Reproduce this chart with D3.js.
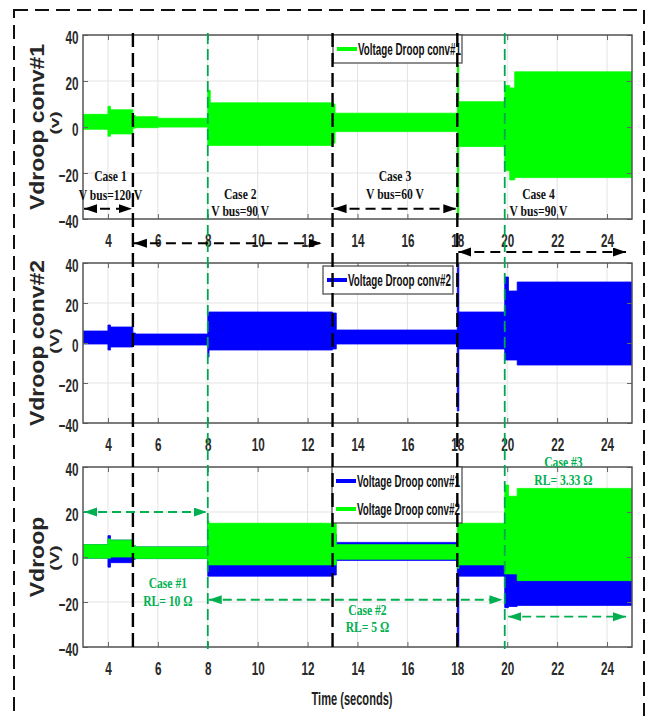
<!DOCTYPE html>
<html>
<head>
<meta charset="utf-8">
<script src="https://cdn.jsdelivr.net/npm/d3@7"></script>
<style>
body { margin: 0; background: #fff; }
</style>
</head>
<body>
<div id="chart"></div>
<script>
// tick values
var timeTicks = [4, 6, 8, 10, 12, 14, 16, 18, 20, 22, 24];
var voltTicks = [-40, -20, 0, 20, 40];

// envelopes of the oscillating droop voltages (step after each time)
// top panel, conv#1
var p1Time = [3, 4, 4.1, 5, 5.1, 6, 8, 8.1, 13, 13.1, 18, 18.06, 19.9, 20.1, 20.3, 25];
var p1Hi   = [5.5, 9, 7.5, 5, 4.5, 3.8, 16, 10.5, 10, 6, 27, 11, 18, 17, 24, 24];
var p1Lo   = [-1, -4, -3, -0.5, -0.3, 0, -8, -8, -7, -2, -39, -8.5, -19, -23, -22, -22];

// middle panel, conv#2
var p2Time = [3, 4, 4.1, 5, 5.1, 8, 8.05, 13, 13.15, 18, 18.06, 19.9, 20.05, 20.4, 25];
var p2Hi   = [6, 9, 8, 5, 4.5, 15, 15.5, 15, 6.5, 40, 15.5, 33, 26, 30.5, 30.5];
var p2Lo   = [-0.5, -3.5, -2, -1, -1, -7, -3.5, -3, -0.5, -34, -3, -8.5, -8.5, -11, -11];

// bottom panel, both converters
var p3Time   = [3, 4, 4.1, 5, 5.1, 8, 8.05, 13, 13.15, 18, 18.06, 19.9, 20.05, 20.4, 25];
var p3BlueHi = [5.5, 9.5, 7.5, 5, 4.5, 15, 10, 10, 6.5, 10, 10, 20, 15, 15, 15];
var p3BlueLo = [-0.5, -4.5, -2.5, -1, -0.7, -8.5, -8.5, -8, -1.5, -40, -8.5, -22.5, -22, -21.5, -21.5];
var p3GreenHi = [5.5, 8, 7.5, 5, 4.5, 16, 15, 15, 5.5, 40, 15, 32, 27, 30.5, 30.5];
var p3GreenLo = [-0.5, -0.5, 0, -0.5, -0.7, -3.5, -3.5, -3.5, -1, -5, -3.5, -7.5, -7.5, -10.5, -10.5];

// case boundaries
var blackBounds = [5, 13, 18];
var greenBounds = [8, 19.9];

function rows(t, hi, lo) {
  return t.map(function(d, i) { return {t: d, hi: hi[i], lo: lo[i]}; });
}

var width = 654, height = 716;
var svg = d3.select("#chart").append("svg")
    .attr("width", width)
    .attr("height", height);

var defs = svg.append("defs");
function marker(id, color) {
  defs.append("marker")
      .attr("id", id)
      .attr("markerUnits", "userSpaceOnUse")
      .attr("markerWidth", 14).attr("markerHeight", 10)
      .attr("refX", 13).attr("refY", 4.5)
      .attr("orient", "auto-start-reverse")
    .append("path")
      .attr("d", "M0,0 L13,4.5 L0,9 Z")
      .attr("fill", color);
}
marker("arrBlack", "#000");
marker("arrGreen", "#00b050");

var x = d3.scaleLinear().domain([3, 25]).range([83, 632]);

var GREEN = "#00ff00", BLUE = "#0000ff";

var panels = [
  {top: 35, bottom: 219, label: "Vdroop conv#1", unit: "(v)", unitDy: -4,
   series: [{d: rows(p1Time, p1Hi, p1Lo), c: GREEN}],
   legend: {x: 333, y: 35, w: 129, items: [{c: GREEN, s: "Voltage Droop conv#1"}]}},
  {top: 263, bottom: 423, label: "Vdroop conv#2", unit: "(V)", unitDy: -2,
   series: [{d: rows(p2Time, p2Hi, p2Lo), c: BLUE}],
   legend: {x: 323, y: 266, w: 130, items: [{c: BLUE, s: "Voltage Droop conv#2"}]}},
  {top: 467, bottom: 647, label: "Vdroop", unit: "(V)", unitDy: 1,
   series: [{d: rows(p3Time, p3BlueHi, p3BlueLo), c: BLUE},
            {d: rows(p3Time, p3GreenHi, p3GreenLo), c: GREEN}],
   legend: {x: 332, y: 467, w: 130, items: [{c: BLUE, s: "Voltage Droop conv#1"},
                                            {c: GREEN, s: "Voltage Droop conv#2"}]}}
];

panels.forEach(function(p, k) {
  var y = d3.scaleLinear().domain([-40, 40]).range([p.bottom, p.top]);
  p.y = y;
  var g = svg.append("g");

  defs.append("clipPath").attr("id", "clip" + k)
    .append("rect").attr("x", x(3)).attr("y", p.top)
    .attr("width", x(25) - x(3)).attr("height", p.bottom - p.top);

  // grid
  g.selectAll(".gx").data(timeTicks).enter().append("line")
      .attr("x1", function(d) { return x(d); }).attr("x2", function(d) { return x(d); })
      .attr("y1", p.top).attr("y2", p.bottom)
      .attr("stroke", "#e3e3e3").attr("stroke-width", 1);
  g.selectAll(".gy").data(voltTicks).enter().append("line")
      .attr("x1", x(3)).attr("x2", x(25))
      .attr("y1", function(d) { return y(d); }).attr("y2", function(d) { return y(d); })
      .attr("stroke", "#e3e3e3").attr("stroke-width", 1);

  // traces
  var area = d3.area()
      .x(function(d) { return x(d.t); })
      .y0(function(d) { return y(d.lo); })
      .y1(function(d) { return y(d.hi); })
      .curve(d3.curveStepAfter);
  g.append("g").attr("clip-path", "url(#clip" + k + ")")
    .selectAll("path").data(p.series).enter().append("path")
      .attr("d", function(s) { return area(s.d); })
      .attr("fill", function(s) { return s.c; })
      .attr("stroke", function(s) { return s.c; })
      .attr("stroke-width", 0.8);

  // axes
  var ax = g.append("g").attr("transform", "translate(0," + p.bottom + ")")
      .call(d3.axisBottom(x).tickValues(timeTicks).tickSize(-5).tickPadding(15));
  var axT = g.append("g").attr("transform", "translate(0," + p.top + ")")
      .call(d3.axisTop(x).tickValues(timeTicks).tickSize(-5).tickFormat(""));
  var ay = g.append("g").attr("transform", "translate(" + x(3) + ",0)")
      .call(d3.axisLeft(y).tickValues(voltTicks).tickSize(-5).tickPadding(7));
  var ayR = g.append("g").attr("transform", "translate(" + x(25) + ",0)")
      .call(d3.axisRight(y).tickValues(voltTicks).tickSize(-5).tickFormat(""));
  [ax, axT, ay, ayR].forEach(function(a) {
    a.select(".domain").remove();
    a.selectAll(".tick line").attr("stroke", "#666");
    a.selectAll("text")
      .attr("font-family", "'Liberation Sans', Arial, sans-serif")
      .attr("font-size", 18).attr("font-weight", "bold")
      .attr("fill", "#2a2a2a")
      .attr("transform", "scale(0.65,1)");
  });
  ay.selectAll("text").attr("dy", "0.45em");

  g.append("rect")
      .attr("x", x(3)).attr("y", p.top)
      .attr("width", x(25) - x(3)).attr("height", p.bottom - p.top)
      .attr("fill", "none").attr("stroke", "#555").attr("stroke-width", 1.5);

  // y labels
  var cy = (p.top + p.bottom) / 2;
  g.append("text")
      .attr("transform", "translate(44," + cy + ") rotate(-90) scale(1,0.85)")
      .attr("text-anchor", "middle")
      .attr("font-family", "'Liberation Sans', Arial, sans-serif")
      .attr("font-size", 23).attr("font-weight", "bold")
      .attr("fill", "#262626")
      .text(p.label);
  g.append("text")
      .attr("transform", "translate(54," + (cy + p.unitDy) + ") rotate(-90) scale(1,0.7)")
      .attr("text-anchor", "middle").attr("dominant-baseline", "central")
      .attr("font-family", "'Liberation Sans', Arial, sans-serif")
      .attr("font-size", 19).attr("font-weight", "bold").attr("fill", "#262626")
      .text(p.unit);

  // legend
  var L = p.legend;
  var lg = g.append("g").attr("transform", "translate(" + L.x + "," + L.y + ")");
  lg.append("rect").attr("width", L.w).attr("height", L.items.length * 28)
      .attr("fill", "#fff").attr("stroke", "#444").attr("stroke-width", 1.2);
  L.items.forEach(function(it, i) {
    var yy = 14 + i * 28;
    lg.append("line").attr("x1", 4).attr("x2", 24).attr("y1", yy).attr("y2", yy)
        .attr("stroke", it.c).attr("stroke-width", 4);
    lg.append("text").attr("x", 25).attr("y", yy)
        .attr("dominant-baseline", "central")
        .attr("font-family", "'Liberation Sans', Arial, sans-serif")
        .attr("font-size", 17).attr("font-weight", "bold").attr("fill", "#111")
        .attr("textLength", 103).attr("lengthAdjust", "spacingAndGlyphs")
        .text(it.s);
  });
});

// case boundary lines across all panels
var vtop = 33, vbot = 649;
svg.selectAll(".vb").data(blackBounds).enter().append("line")
    .attr("x1", function(d) { return x(d); }).attr("x2", function(d) { return x(d); })
    .attr("y1", vtop).attr("y2", vbot)
    .attr("stroke", "#000").attr("stroke-width", 2.4).attr("stroke-dasharray", "14,6");
svg.selectAll(".vg").data(greenBounds).enter().append("line")
    .attr("x1", function(d) { return x(d); }).attr("x2", function(d) { return x(d); })
    .attr("y1", vtop).attr("y2", vbot)
    .attr("stroke", "#00a651").attr("stroke-width", 1.8).attr("stroke-dasharray", "11,5");

// arrows: panel index, from, to, value, colour
var arrows = [
  [0, 3, 5, -35.5, "black"], [0, 5, 12.6, -50.5, "black"], [0, 13, 18, -35.5, "black"],
  [1, 18, 24.8, 45.5, "black"],
  [2, 3, 8, 20, "green"], [2, 8, 19.85, -19, "green"], [2, 20, 24.8, -26.5, "green"]
];
arrows.forEach(function(a) {
  var y = panels[a[0]].y, black = a[4] === "black";
  svg.append("line")
      .attr("x1", x(a[1]) + 1).attr("x2", x(a[2]) - 1)
      .attr("y1", y(a[3])).attr("y2", y(a[3]))
      .attr("stroke", black ? "#000" : "#00b050")
      .attr("stroke-width", black ? 2 : 1.8)
      .attr("stroke-dasharray", black ? "10,6" : "9,5")
      .attr("marker-start", black ? "url(#arrBlack)" : "url(#arrGreen)")
      .attr("marker-end", black ? "url(#arrBlack)" : "url(#arrGreen)");
});

// case labels: panel, time, value, text, colour
var notes = [
  [0, 4.1, -21.3, "Case 1", "black"], [0, 4.1, -29.5, "V bus=120 V", "black"],
  [0, 9.3, -29, "Case 2", "black"], [0, 9.3, -36.5, "V bus=90 V", "black"],
  [0, 15.5, -21.3, "Case 3", "black"], [0, 15.5, -29, "V bus=60 V", "black"],
  [0, 21.25, -29, "Case 4", "black"], [0, 21.25, -36.5, "V bus=90 V", "black"],
  [2, 6.4, -11.5, "Case #1", "green"], [2, 6.4, -19.5, "RL= 10 \u03A9", "green"],
  [2, 14.4, -23.5, "Case #2", "green"], [2, 14.4, -31, "RL= 5 \u03A9", "green"],
  [2, 22.25, 42.2, "Case #3", "green"], [2, 22.25, 34.4, "RL= 3.33 \u03A9", "green"]
];
notes.forEach(function(n) {
  var y = panels[n[0]].y;
  svg.append("text")
      .attr("transform", "translate(" + x(n[1]) + "," + y(n[2]) + ") scale(0.8,1)")
      .attr("text-anchor", "middle").attr("dominant-baseline", "central")
      .attr("font-family", "'Liberation Serif', 'Times New Roman', serif")
      .attr("font-size", 14.5).attr("font-weight", "bold")
      .attr("fill", n[4] === "black" ? "#111" : "#00b050")
      .text(n[3]);
});

svg.append("text")
    .attr("x", 352).attr("y", 698)
    .attr("text-anchor", "middle").attr("dominant-baseline", "central")
    .attr("font-family", "'Liberation Sans', Arial, sans-serif")
    .attr("font-size", 19).attr("font-weight", "bold").attr("fill", "#222")
    .attr("textLength", 81).attr("lengthAdjust", "spacingAndGlyphs")
    .text("Time (seconds)");

// outer dashed frame
svg.append("rect")
    .attr("x", 14).attr("y", 10).attr("width", 630).attr("height", 760)
    .attr("fill", "none").attr("stroke", "#111").attr("stroke-width", 2)
    .attr("stroke-dasharray", "14,7");
</script>
</body>
</html>
